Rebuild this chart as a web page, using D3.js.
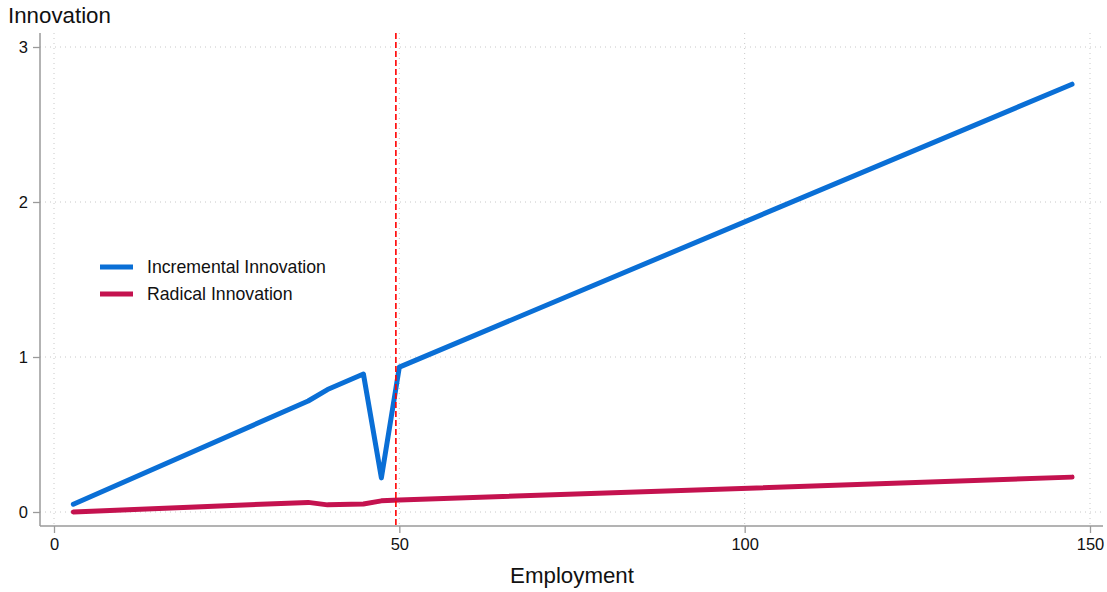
<!DOCTYPE html>
<html><head><meta charset="utf-8">
<script src="https://cdn.jsdelivr.net/npm/d3@7"></script>
<style>body{margin:0;background:#fff}svg{display:block;font-family:"Liberation Sans",Arial,sans-serif}</style>
</head><body>
<svg id="c" width="1107" height="592"></svg>
<script>
const employment = [2.8, 36.8, 39.6, 44.8, 47.4, 50.0, 147.4];
const incremental = [0.05, 0.716, 0.79, 0.89, 0.22, 0.935, 2.76];
const radical = [0.0, 0.062, 0.046, 0.052, 0.072, 0.077, 0.225];
const xTicks = [0, 50, 100, 150];
const yTicks = [0, 1, 2, 3];
const cutoff = 49.5;
const seriesNames = ["Incremental Innovation", "Radical Innovation"];
const colors = ["#0a6fd6", "#c4124f"];

const svg = d3.select("#c");
const x = d3.scaleLinear().domain([0,150]).range([54,1090]);
const y = d3.scaleLinear().domain([0,3]).range([512,47]);
const L = 40, R = 1103, T = 33, B = 526;
const axisCol = "#9a9a9a";

// grid
const g = svg.append("g");
g.selectAll(".gy").data(yTicks).join("line")
  .attr("x1", L).attr("x2", R).attr("y1", d=>y(d)).attr("y2", d=>y(d))
  .attr("stroke", "#c8c8c8").attr("stroke-width", 1).attr("stroke-dasharray", "1,4");
g.selectAll(".gx").data(xTicks).join("line")
  .attr("y1", T).attr("y2", B).attr("x1", d=>x(d)).attr("x2", d=>x(d))
  .attr("stroke", "#c8c8c8").attr("stroke-width", 1).attr("stroke-dasharray", "1,4");

// axes
const xa = svg.append("g").attr("transform", `translate(0,${B})`)
  .call(d3.axisBottom(x).tickValues(xTicks).tickSize(7).tickPadding(5).tickFormat(d3.format("d")));
const ya = svg.append("g").attr("transform", `translate(${L},0)`)
  .call(d3.axisLeft(y).tickValues(yTicks).tickSize(7).tickPadding(5).tickFormat(d3.format("d")));
[xa, ya].forEach(a => {
  a.select(".domain").remove();
  a.selectAll(".tick line").attr("stroke", axisCol).attr("stroke-width", 1.3);
  a.selectAll(".tick text").attr("fill", "#111").style("font-size", "16.5px").style("font-family", "Liberation Sans, Arial, sans-serif");
});
svg.append("line").attr("x1", L).attr("x2", R).attr("y1", B).attr("y2", B).attr("stroke", axisCol).attr("stroke-width", 1.5);
svg.append("line").attr("x1", L).attr("x2", L).attr("y1", T).attr("y2", B).attr("stroke", axisCol).attr("stroke-width", 1.5);

// lines
const line = d3.line().x((d,i)=>x(employment[i])).y(d=>y(d));
[incremental, radical].forEach((s, k) => {
  svg.append("path").datum(s).attr("d", line).attr("fill", "none")
    .attr("stroke", colors[k]).attr("stroke-width", 5)
    .attr("stroke-linejoin", "round").attr("stroke-linecap", "round");
});

// cutoff
svg.append("line").attr("x1", x(cutoff)).attr("x2", x(cutoff)).attr("y1", T).attr("y2", B)
  .attr("stroke", "#ff0000").attr("stroke-width", 1.6).attr("stroke-dasharray", "6,3");

// legend
seriesNames.forEach((n, k) => {
  const yy = 267 + k*27;
  svg.append("line").attr("x1", 100).attr("x2", 133).attr("y1", yy).attr("y2", yy)
    .attr("stroke", colors[k]).attr("stroke-width", 5);
  svg.append("text").attr("x", 147).attr("y", yy+6).text(n)
    .style("font-size", "17.7px").attr("fill", "#111");
});

// titles
svg.append("text").attr("x", 8).attr("y", 23).text("Innovation").style("font-size", "22.3px").attr("fill", "#111");
svg.append("text").attr("x", 572).attr("y", 583).attr("text-anchor", "middle").text("Employment").style("font-size", "22.3px").attr("fill", "#111");
</script>
</body></html>
